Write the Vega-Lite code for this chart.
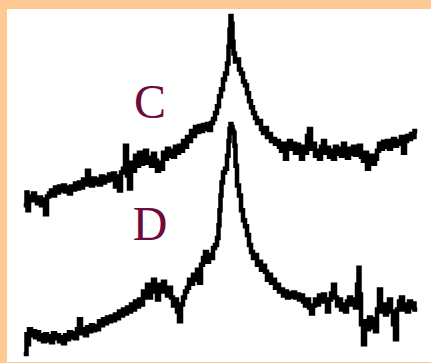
{
  "$schema": "https://vega.github.io/schema/vega-lite/v6.json",
  "width": 431,
  "height": 363,
  "autosize": {"type": "fit", "contains": "padding"},
  "padding": {"left": 7, "top": 7, "right": 0, "bottom": 0},
  "background": "#FFC993",
  "config": {"view": {"stroke": null, "fill": "#FFFFFF"}},
  "datasets": {
    "spectra": [
      {"s":"C","x":26,"y":158},{"s":"C","x":27,"y":171},{"s":"C","x":28,"y":153},{"s":"C","x":30,"y":167},{"s":"C","x":32,"y":163},{"s":"C","x":34,"y":170},{"s":"C","x":36,"y":164},{"s":"C","x":38,"y":160},{"s":"C","x":40,"y":166},{"s":"C","x":42,"y":158},{"s":"C","x":44,"y":164},{"s":"C","x":46,"y":149},{"s":"C","x":48,"y":167},{"s":"C","x":50,"y":170},{"s":"C","x":52,"y":173},{"s":"C","x":54,"y":168},{"s":"C","x":56,"y":176},{"s":"C","x":58,"y":171},{"s":"C","x":60,"y":177},{"s":"C","x":62,"y":173},{"s":"C","x":64,"y":178},{"s":"C","x":66,"y":172},{"s":"C","x":68,"y":176},{"s":"C","x":70,"y":170},{"s":"C","x":72,"y":177},{"s":"C","x":74,"y":174},{"s":"C","x":76,"y":180},{"s":"C","x":78,"y":175},{"s":"C","x":80,"y":181},{"s":"C","x":82,"y":176},{"s":"C","x":84,"y":184},{"s":"C","x":86,"y":179},{"s":"C","x":88,"y":193},{"s":"C","x":90,"y":182},{"s":"C","x":92,"y":178},{"s":"C","x":94,"y":185},{"s":"C","x":96,"y":180},{"s":"C","x":98,"y":184},{"s":"C","x":100,"y":179},{"s":"C","x":102,"y":187},{"s":"C","x":104,"y":181},{"s":"C","x":106,"y":186},{"s":"C","x":108,"y":183},{"s":"C","x":110,"y":189},{"s":"C","x":112,"y":184},{"s":"C","x":114,"y":190},{"s":"C","x":116,"y":177},{"s":"C","x":118,"y":187},{"s":"C","x":120,"y":173},{"s":"C","x":122,"y":191},{"s":"C","x":124,"y":195},{"s":"C","x":126,"y":218},{"s":"C","x":128,"y":188},{"s":"C","x":130,"y":175},{"s":"C","x":132,"y":201},{"s":"C","x":134,"y":193},{"s":"C","x":136,"y":208},{"s":"C","x":138,"y":198},{"s":"C","x":140,"y":211},{"s":"C","x":142,"y":200},{"s":"C","x":144,"y":205},{"s":"C","x":146,"y":213},{"s":"C","x":148,"y":201},{"s":"C","x":150,"y":206},{"s":"C","x":152,"y":198},{"s":"C","x":154,"y":210},{"s":"C","x":156,"y":203},{"s":"C","x":158,"y":193},{"s":"C","x":160,"y":201},{"s":"C","x":162,"y":195},{"s":"C","x":164,"y":211},{"s":"C","x":166,"y":205},{"s":"C","x":168,"y":215},{"s":"C","x":170,"y":208},{"s":"C","x":172,"y":213},{"s":"C","x":174,"y":207},{"s":"C","x":176,"y":217},{"s":"C","x":178,"y":211},{"s":"C","x":180,"y":218},{"s":"C","x":182,"y":213},{"s":"C","x":184,"y":223},{"s":"C","x":186,"y":217},{"s":"C","x":188,"y":227},{"s":"C","x":190,"y":223},{"s":"C","x":192,"y":233},{"s":"C","x":194,"y":228},{"s":"C","x":196,"y":237},{"s":"C","x":198,"y":232},{"s":"C","x":200,"y":238},{"s":"C","x":202,"y":233},{"s":"C","x":204,"y":239},{"s":"C","x":206,"y":235},{"s":"C","x":208,"y":240},{"s":"C","x":210,"y":234},{"s":"C","x":212,"y":241},{"s":"C","x":214,"y":245},{"s":"C","x":216,"y":251},{"s":"C","x":218,"y":258},{"s":"C","x":220,"y":268},{"s":"C","x":222,"y":275},{"s":"C","x":224,"y":285},{"s":"C","x":226,"y":291},{"s":"C","x":228,"y":301},{"s":"C","x":229,"y":318},{"s":"C","x":230,"y":335},{"s":"C","x":231,"y":349},{"s":"C","x":232,"y":341},{"s":"C","x":233,"y":323},{"s":"C","x":234,"y":311},{"s":"C","x":236,"y":303},{"s":"C","x":238,"y":305},{"s":"C","x":240,"y":295},{"s":"C","x":242,"y":291},{"s":"C","x":244,"y":283},{"s":"C","x":246,"y":279},{"s":"C","x":248,"y":271},{"s":"C","x":250,"y":263},{"s":"C","x":252,"y":257},{"s":"C","x":254,"y":251},{"s":"C","x":256,"y":246},{"s":"C","x":258,"y":241},{"s":"C","x":260,"y":243},{"s":"C","x":262,"y":235},{"s":"C","x":264,"y":231},{"s":"C","x":266,"y":236},{"s":"C","x":268,"y":227},{"s":"C","x":270,"y":230},{"s":"C","x":272,"y":223},{"s":"C","x":274,"y":225},{"s":"C","x":276,"y":220},{"s":"C","x":278,"y":223},{"s":"C","x":280,"y":217},{"s":"C","x":282,"y":213},{"s":"C","x":284,"y":220},{"s":"C","x":286,"y":205},{"s":"C","x":288,"y":217},{"s":"C","x":290,"y":223},{"s":"C","x":292,"y":215},{"s":"C","x":294,"y":220},{"s":"C","x":296,"y":211},{"s":"C","x":298,"y":219},{"s":"C","x":300,"y":213},{"s":"C","x":302,"y":205},{"s":"C","x":304,"y":217},{"s":"C","x":306,"y":211},{"s":"C","x":308,"y":228},{"s":"C","x":310,"y":235},{"s":"C","x":312,"y":215},{"s":"C","x":314,"y":220},{"s":"C","x":316,"y":208},{"s":"C","x":318,"y":213},{"s":"C","x":320,"y":205},{"s":"C","x":322,"y":217},{"s":"C","x":324,"y":223},{"s":"C","x":326,"y":211},{"s":"C","x":328,"y":216},{"s":"C","x":330,"y":207},{"s":"C","x":332,"y":213},{"s":"C","x":334,"y":205},{"s":"C","x":336,"y":217},{"s":"C","x":338,"y":210},{"s":"C","x":340,"y":215},{"s":"C","x":342,"y":208},{"s":"C","x":344,"y":220},{"s":"C","x":346,"y":213},{"s":"C","x":348,"y":206},{"s":"C","x":350,"y":215},{"s":"C","x":352,"y":210},{"s":"C","x":354,"y":217},{"s":"C","x":356,"y":209},{"s":"C","x":358,"y":214},{"s":"C","x":360,"y":218},{"s":"C","x":362,"y":207},{"s":"C","x":364,"y":203},{"s":"C","x":366,"y":211},{"s":"C","x":368,"y":195},{"s":"C","x":370,"y":203},{"s":"C","x":372,"y":208},{"s":"C","x":374,"y":200},{"s":"C","x":376,"y":205},{"s":"C","x":378,"y":213},{"s":"C","x":380,"y":220},{"s":"C","x":382,"y":215},{"s":"C","x":384,"y":222},{"s":"C","x":386,"y":217},{"s":"C","x":388,"y":223},{"s":"C","x":390,"y":215},{"s":"C","x":392,"y":221},{"s":"C","x":394,"y":225},{"s":"C","x":396,"y":218},{"s":"C","x":398,"y":223},{"s":"C","x":400,"y":220},{"s":"C","x":402,"y":227},{"s":"C","x":404,"y":211},{"s":"C","x":406,"y":223},{"s":"C","x":408,"y":228},{"s":"C","x":410,"y":225},{"s":"C","x":412,"y":230},{"s":"C","x":414,"y":227},{"s":"C","x":415,"y":233},
      {"s":"D","x":26,"y":8},{"s":"D","x":27,"y":28},{"s":"D","x":28,"y":18},{"s":"D","x":30,"y":33},{"s":"D","x":32,"y":27},{"s":"D","x":34,"y":31},{"s":"D","x":36,"y":25},{"s":"D","x":38,"y":30},{"s":"D","x":40,"y":23},{"s":"D","x":42,"y":27},{"s":"D","x":44,"y":21},{"s":"D","x":46,"y":28},{"s":"D","x":48,"y":22},{"s":"D","x":50,"y":26},{"s":"D","x":52,"y":20},{"s":"D","x":54,"y":29},{"s":"D","x":56,"y":24},{"s":"D","x":58,"y":27},{"s":"D","x":60,"y":21},{"s":"D","x":62,"y":25},{"s":"D","x":64,"y":19},{"s":"D","x":66,"y":27},{"s":"D","x":68,"y":23},{"s":"D","x":70,"y":30},{"s":"D","x":72,"y":25},{"s":"D","x":74,"y":29},{"s":"D","x":76,"y":24},{"s":"D","x":78,"y":33},{"s":"D","x":80,"y":43},{"s":"D","x":82,"y":29},{"s":"D","x":84,"y":33},{"s":"D","x":86,"y":27},{"s":"D","x":88,"y":35},{"s":"D","x":90,"y":31},{"s":"D","x":92,"y":37},{"s":"D","x":94,"y":32},{"s":"D","x":96,"y":36},{"s":"D","x":98,"y":33},{"s":"D","x":100,"y":41},{"s":"D","x":102,"y":37},{"s":"D","x":104,"y":43},{"s":"D","x":106,"y":39},{"s":"D","x":108,"y":45},{"s":"D","x":110,"y":41},{"s":"D","x":112,"y":46},{"s":"D","x":114,"y":42},{"s":"D","x":116,"y":48},{"s":"D","x":118,"y":44},{"s":"D","x":120,"y":51},{"s":"D","x":122,"y":47},{"s":"D","x":124,"y":53},{"s":"D","x":126,"y":49},{"s":"D","x":128,"y":55},{"s":"D","x":130,"y":51},{"s":"D","x":132,"y":58},{"s":"D","x":134,"y":53},{"s":"D","x":136,"y":61},{"s":"D","x":138,"y":56},{"s":"D","x":140,"y":63},{"s":"D","x":142,"y":58},{"s":"D","x":144,"y":71},{"s":"D","x":146,"y":65},{"s":"D","x":148,"y":78},{"s":"D","x":150,"y":65},{"s":"D","x":152,"y":73},{"s":"D","x":154,"y":83},{"s":"D","x":156,"y":71},{"s":"D","x":158,"y":63},{"s":"D","x":160,"y":78},{"s":"D","x":162,"y":71},{"s":"D","x":164,"y":81},{"s":"D","x":166,"y":73},{"s":"D","x":168,"y":67},{"s":"D","x":170,"y":75},{"s":"D","x":172,"y":65},{"s":"D","x":174,"y":57},{"s":"D","x":176,"y":63},{"s":"D","x":178,"y":51},{"s":"D","x":180,"y":41},{"s":"D","x":182,"y":58},{"s":"D","x":184,"y":65},{"s":"D","x":186,"y":71},{"s":"D","x":188,"y":75},{"s":"D","x":190,"y":83},{"s":"D","x":192,"y":79},{"s":"D","x":194,"y":88},{"s":"D","x":196,"y":83},{"s":"D","x":198,"y":93},{"s":"D","x":200,"y":80},{"s":"D","x":202,"y":98},{"s":"D","x":204,"y":105},{"s":"D","x":206,"y":111},{"s":"D","x":208,"y":101},{"s":"D","x":210,"y":108},{"s":"D","x":212,"y":105},{"s":"D","x":214,"y":115},{"s":"D","x":216,"y":118},{"s":"D","x":218,"y":125},{"s":"D","x":219,"y":138},{"s":"D","x":220,"y":153},{"s":"D","x":221,"y":168},{"s":"D","x":222,"y":181},{"s":"D","x":224,"y":191},{"s":"D","x":226,"y":195},{"s":"D","x":228,"y":208},{"s":"D","x":229,"y":223},{"s":"D","x":230,"y":235},{"s":"D","x":231,"y":240},{"s":"D","x":232,"y":237},{"s":"D","x":233,"y":233},{"s":"D","x":234,"y":231},{"s":"D","x":235,"y":218},{"s":"D","x":236,"y":198},{"s":"D","x":238,"y":178},{"s":"D","x":240,"y":168},{"s":"D","x":242,"y":153},{"s":"D","x":244,"y":143},{"s":"D","x":246,"y":137},{"s":"D","x":248,"y":128},{"s":"D","x":250,"y":118},{"s":"D","x":252,"y":111},{"s":"D","x":254,"y":105},{"s":"D","x":256,"y":108},{"s":"D","x":258,"y":98},{"s":"D","x":260,"y":101},{"s":"D","x":262,"y":93},{"s":"D","x":264,"y":97},{"s":"D","x":266,"y":91},{"s":"D","x":268,"y":83},{"s":"D","x":270,"y":88},{"s":"D","x":272,"y":80},{"s":"D","x":274,"y":83},{"s":"D","x":276,"y":75},{"s":"D","x":278,"y":78},{"s":"D","x":280,"y":71},{"s":"D","x":282,"y":73},{"s":"D","x":284,"y":67},{"s":"D","x":286,"y":71},{"s":"D","x":288,"y":65},{"s":"D","x":290,"y":69},{"s":"D","x":292,"y":66},{"s":"D","x":294,"y":70},{"s":"D","x":296,"y":65},{"s":"D","x":298,"y":68},{"s":"D","x":300,"y":63},{"s":"D","x":302,"y":67},{"s":"D","x":304,"y":61},{"s":"D","x":306,"y":57},{"s":"D","x":308,"y":63},{"s":"D","x":310,"y":55},{"s":"D","x":312,"y":49},{"s":"D","x":314,"y":57},{"s":"D","x":316,"y":63},{"s":"D","x":318,"y":58},{"s":"D","x":320,"y":67},{"s":"D","x":322,"y":61},{"s":"D","x":324,"y":68},{"s":"D","x":326,"y":63},{"s":"D","x":328,"y":51},{"s":"D","x":330,"y":63},{"s":"D","x":332,"y":69},{"s":"D","x":334,"y":78},{"s":"D","x":336,"y":65},{"s":"D","x":338,"y":57},{"s":"D","x":340,"y":63},{"s":"D","x":342,"y":53},{"s":"D","x":344,"y":58},{"s":"D","x":346,"y":51},{"s":"D","x":348,"y":61},{"s":"D","x":350,"y":65},{"s":"D","x":352,"y":58},{"s":"D","x":354,"y":63},{"s":"D","x":356,"y":55},{"s":"D","x":358,"y":78},{"s":"D","x":359,"y":95},{"s":"D","x":360,"y":68},{"s":"D","x":362,"y":38},{"s":"D","x":364,"y":18},{"s":"D","x":366,"y":41},{"s":"D","x":368,"y":33},{"s":"D","x":370,"y":45},{"s":"D","x":372,"y":35},{"s":"D","x":374,"y":43},{"s":"D","x":376,"y":31},{"s":"D","x":378,"y":53},{"s":"D","x":380,"y":73},{"s":"D","x":382,"y":51},{"s":"D","x":384,"y":58},{"s":"D","x":386,"y":48},{"s":"D","x":388,"y":55},{"s":"D","x":390,"y":63},{"s":"D","x":392,"y":51},{"s":"D","x":394,"y":38},{"s":"D","x":396,"y":23},{"s":"D","x":398,"y":53},{"s":"D","x":400,"y":61},{"s":"D","x":402,"y":65},{"s":"D","x":404,"y":53},{"s":"D","x":406,"y":58},{"s":"D","x":408,"y":51},{"s":"D","x":410,"y":61},{"s":"D","x":412,"y":55},{"s":"D","x":414,"y":59},{"s":"D","x":415,"y":53}
    ],
    "labels": [
      {"label": "C", "x": 150, "y": 246},
      {"label": "D", "x": 150, "y": 123}
    ]
  },
  "layer": [
    {
      "data": {"name": "spectra"},
      "mark": {"type": "line", "interpolate": "step", "color": "#000000", "strokeWidth": 4.5, "strokeJoin": "miter", "strokeCap": "square"},
      "encoding": {
        "x": {"field": "x", "type": "quantitative", "scale": {"domain": [7, 431], "nice": false, "zero": false}, "axis": null},
        "y": {"field": "y", "type": "quantitative", "scale": {"domain": [0, 356], "nice": false}, "axis": null},
        "detail": {"field": "s"}
      }
    },
    {
      "data": {"name": "labels"},
      "mark": {"type": "text", "font": "Liberation Serif", "fontSize": 48, "color": "#6E0B3C", "align": "center", "baseline": "alphabetic"},
      "encoding": {
        "x": {"field": "x", "type": "quantitative"},
        "y": {"field": "y", "type": "quantitative"},
        "text": {"field": "label"}
      }
    }
  ]
}
